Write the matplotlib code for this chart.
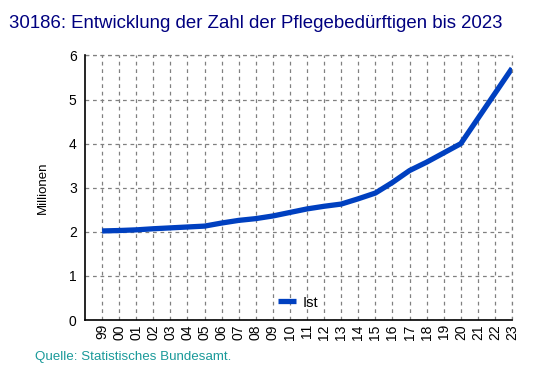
import matplotlib
matplotlib.use("Agg")
from matplotlib import pyplot as plt

# Daten (Millionen Pflegebedürftige)
jahre = ["99", "00", "01", "02", "03", "04", "05", "06", "07", "08", "09", "10",
         "11", "12", "13", "14", "15", "16", "17", "18", "19", "20", "21", "22", "23"]
ist = [2.02, 2.03, 2.045, 2.07, 2.09, 2.11, 2.13, 2.20, 2.26, 2.30, 2.36, 2.44,
       2.52, 2.58, 2.63, 2.75, 2.88, 3.12, 3.39, 3.58, 3.79, 4.00, 4.57, 5.14, 5.71]

plt.rcParams["font.family"] = ["Liberation Sans", "DejaVu Sans"]

fig = plt.figure(figsize=(5.53, 3.76), dpi=100)
ax = fig.add_axes([0.1537, 0.1489, 0.9259 - 0.1537, 0.8524 - 0.1489])

x = list(range(len(jahre)))
ax.plot(x, ist, color="#0040c0", linewidth=3.8, label="Ist", solid_capstyle="butt")

ax.set_xlim(-1, len(jahre) - 1)
ax.set_ylim(0, 6)
ax.set_xticks(x)
ax.set_xticklabels(jahre, rotation=90, fontsize=9.5)
ax.set_yticks(range(0, 7))
ax.tick_params(axis="both", length=0, labelsize=10, pad=6)
ax.tick_params(axis="x", pad=3)

ax.grid(True, color="#808080", linestyle=(0, (3, 3)), linewidth=0.9)
ax.set_axisbelow(True)
for s in ["top", "right"]:
    ax.spines[s].set_visible(False)
ax.spines["left"].set_linewidth(1.2)
ax.spines["bottom"].set_linewidth(1.2)

# gestrichelte Außenlinien oben und rechts
ax.axhline(6, color="#808080", linestyle=(0, (3, 3)), linewidth=0.9, clip_on=False)
ax.axvline(len(jahre) - 1, color="#808080", linestyle=(0, (3, 3)), linewidth=0.9, clip_on=False)

ax.set_ylabel("Millionen", fontsize=9.5, labelpad=14)

ax.legend(loc="lower center", bbox_to_anchor=(0.5, -0.01), frameon=False,
          fontsize=10.5, handlelength=1.2, handletextpad=0.5)

fig.text(0.016, 0.937, "30186: Entwicklung der Zahl der Pflegebedürftigen bis 2023",
         color="#000080", fontsize=13.4, ha="left", va="center")
fig.text(0.063, 0.05, "Quelle: Statistisches Bundesamt.", color="#1a9a9a",
         fontsize=9.6, ha="left", va="center")

fig.savefig("out.png", dpi=100)
